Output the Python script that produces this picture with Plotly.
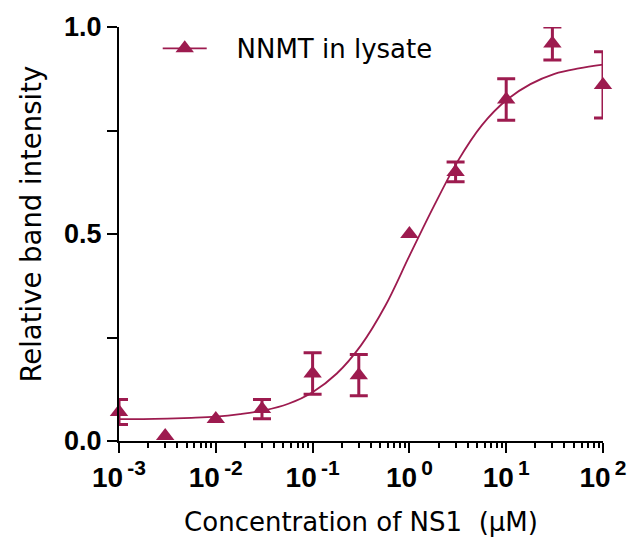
import plotly.graph_objects as go

# Measured data (err = None where no error bar is visible)
conc = [0.001, 0.003, 0.01, 0.03, 0.1, 0.3, 1, 3, 10, 30, 100]
intensity = [0.070, 0.012, 0.053, 0.077, 0.163, 0.159, 0.500, 0.650, 0.825, 0.960, 0.860]
err = [0.030, None, None, 0.023, 0.050, 0.050, None, 0.024, 0.050, 0.040, 0.080]

# Fitted curve
curve_x = [0.001, 0.00178, 0.00316, 0.00562, 0.01, 0.0178, 0.0316, 0.0562, 0.1, 0.178,
           0.316, 0.562, 1, 1.78, 3.16, 5.62, 10, 17.8, 31.6, 56.2, 100]
curve_y = [0.053, 0.053, 0.054, 0.056, 0.059, 0.065, 0.074, 0.090, 0.118, 0.163,
           0.231, 0.326, 0.447, 0.566, 0.676, 0.763, 0.823, 0.862, 0.887, 0.900, 0.909]

x_tickvals = [0.001, 0.01, 0.1, 1, 10, 100]
x_exps = ["-3", "-2", "-1", "0", "1", "2"]
x_ticktext = ["10<sup><span style='font-size:21px'>\u2009%s</span></sup>" % e for e in x_exps]
y_tickvals = [0.0, 0.5, 1.0]
y_ticktext = ["0.0", "0.5", "1.0"]

COLOR = "#9D1B4F"
FONT = "Liberation Sans, Arial, sans-serif"
TFONT = "DejaVu Sans, sans-serif"

with_err = [i for i, e in enumerate(err) if e is not None]
no_err = [i for i, e in enumerate(err) if e is None]

fig = go.Figure()
fig.add_trace(go.Scatter(x=curve_x, y=curve_y, mode="lines", line=dict(color=COLOR, width=1.8, shape="spline"),
                         showlegend=False, hoverinfo="skip"))
fig.add_trace(go.Scatter(x=[conc[i] for i in with_err], y=[intensity[i] for i in with_err], mode="markers",
                         marker=dict(symbol="triangle-up", size=16, color=COLOR),
                         error_y=dict(type="data", array=[err[i] for i in with_err], color=COLOR,
                                      thickness=3, width=9),
                         showlegend=False, cliponaxis=False))
fig.add_trace(go.Scatter(x=[conc[i] for i in no_err], y=[intensity[i] for i in no_err], mode="markers",
                         marker=dict(symbol="triangle-up", size=16, color=COLOR),
                         showlegend=False, cliponaxis=False))
fig.add_trace(go.Scatter(x=[None], y=[None], mode="lines+markers", name="\u00a0\u00a0\u00a0NNMT in lysate",
                         line=dict(color=COLOR, width=1.8),
                         marker=dict(symbol="triangle-up", size=16, color=COLOR)))

fig.update_layout(
    width=639, height=544,
    margin=dict(l=119, r=32, t=24, b=103),
    plot_bgcolor="white", paper_bgcolor="white",
    font=dict(family=FONT, color="black"),
    legend=dict(x=0.08, y=1.005, xanchor="left", yanchor="top", bgcolor="rgba(0,0,0,0)",
                font=dict(size=26, family=TFONT, color="black"), itemwidth=44),
    annotations=[dict(text="Relative band intensity", textangle=-90, xref="paper", yref="paper",
                      x=-0.182, y=0.525, xanchor="center", yanchor="middle", showarrow=False,
                      font=dict(size=27.5, family=TFONT, color="black"))],
)
fig.update_xaxes(
    type="log", range=[-3, 2], showgrid=False, zeroline=False,
    showline=True, linecolor="black", linewidth=2,
    tickmode="array", tickvals=x_tickvals, ticktext=x_ticktext,
    ticks="outside", ticklen=10, tickwidth=2, tickcolor="black",
    tickfont=dict(size=28, family=FONT, weight="bold", color="black"),
    minor=dict(ticks="outside", ticklen=5, tickwidth=1.5, tickcolor="black", dtick="D1"),
    title=dict(text="Concentration of NS1  (μM)", font=dict(size=26, family=TFONT, color="black"), standoff=21),
)
fig.update_yaxes(
    range=[0, 1], showgrid=False, zeroline=False,
    showline=True, linecolor="black", linewidth=2,
    tickmode="array", tickvals=y_tickvals, ticktext=y_ticktext,
    ticks="outside", ticklen=10, tickwidth=2, tickcolor="black",
    tickfont=dict(size=27, family=FONT, weight="bold", color="black"),
    minor=dict(ticks="outside", ticklen=10, tickwidth=1.5, tickcolor="black", tickvals=[0.25, 0.75]),
)

fig.write_html("out.html")
